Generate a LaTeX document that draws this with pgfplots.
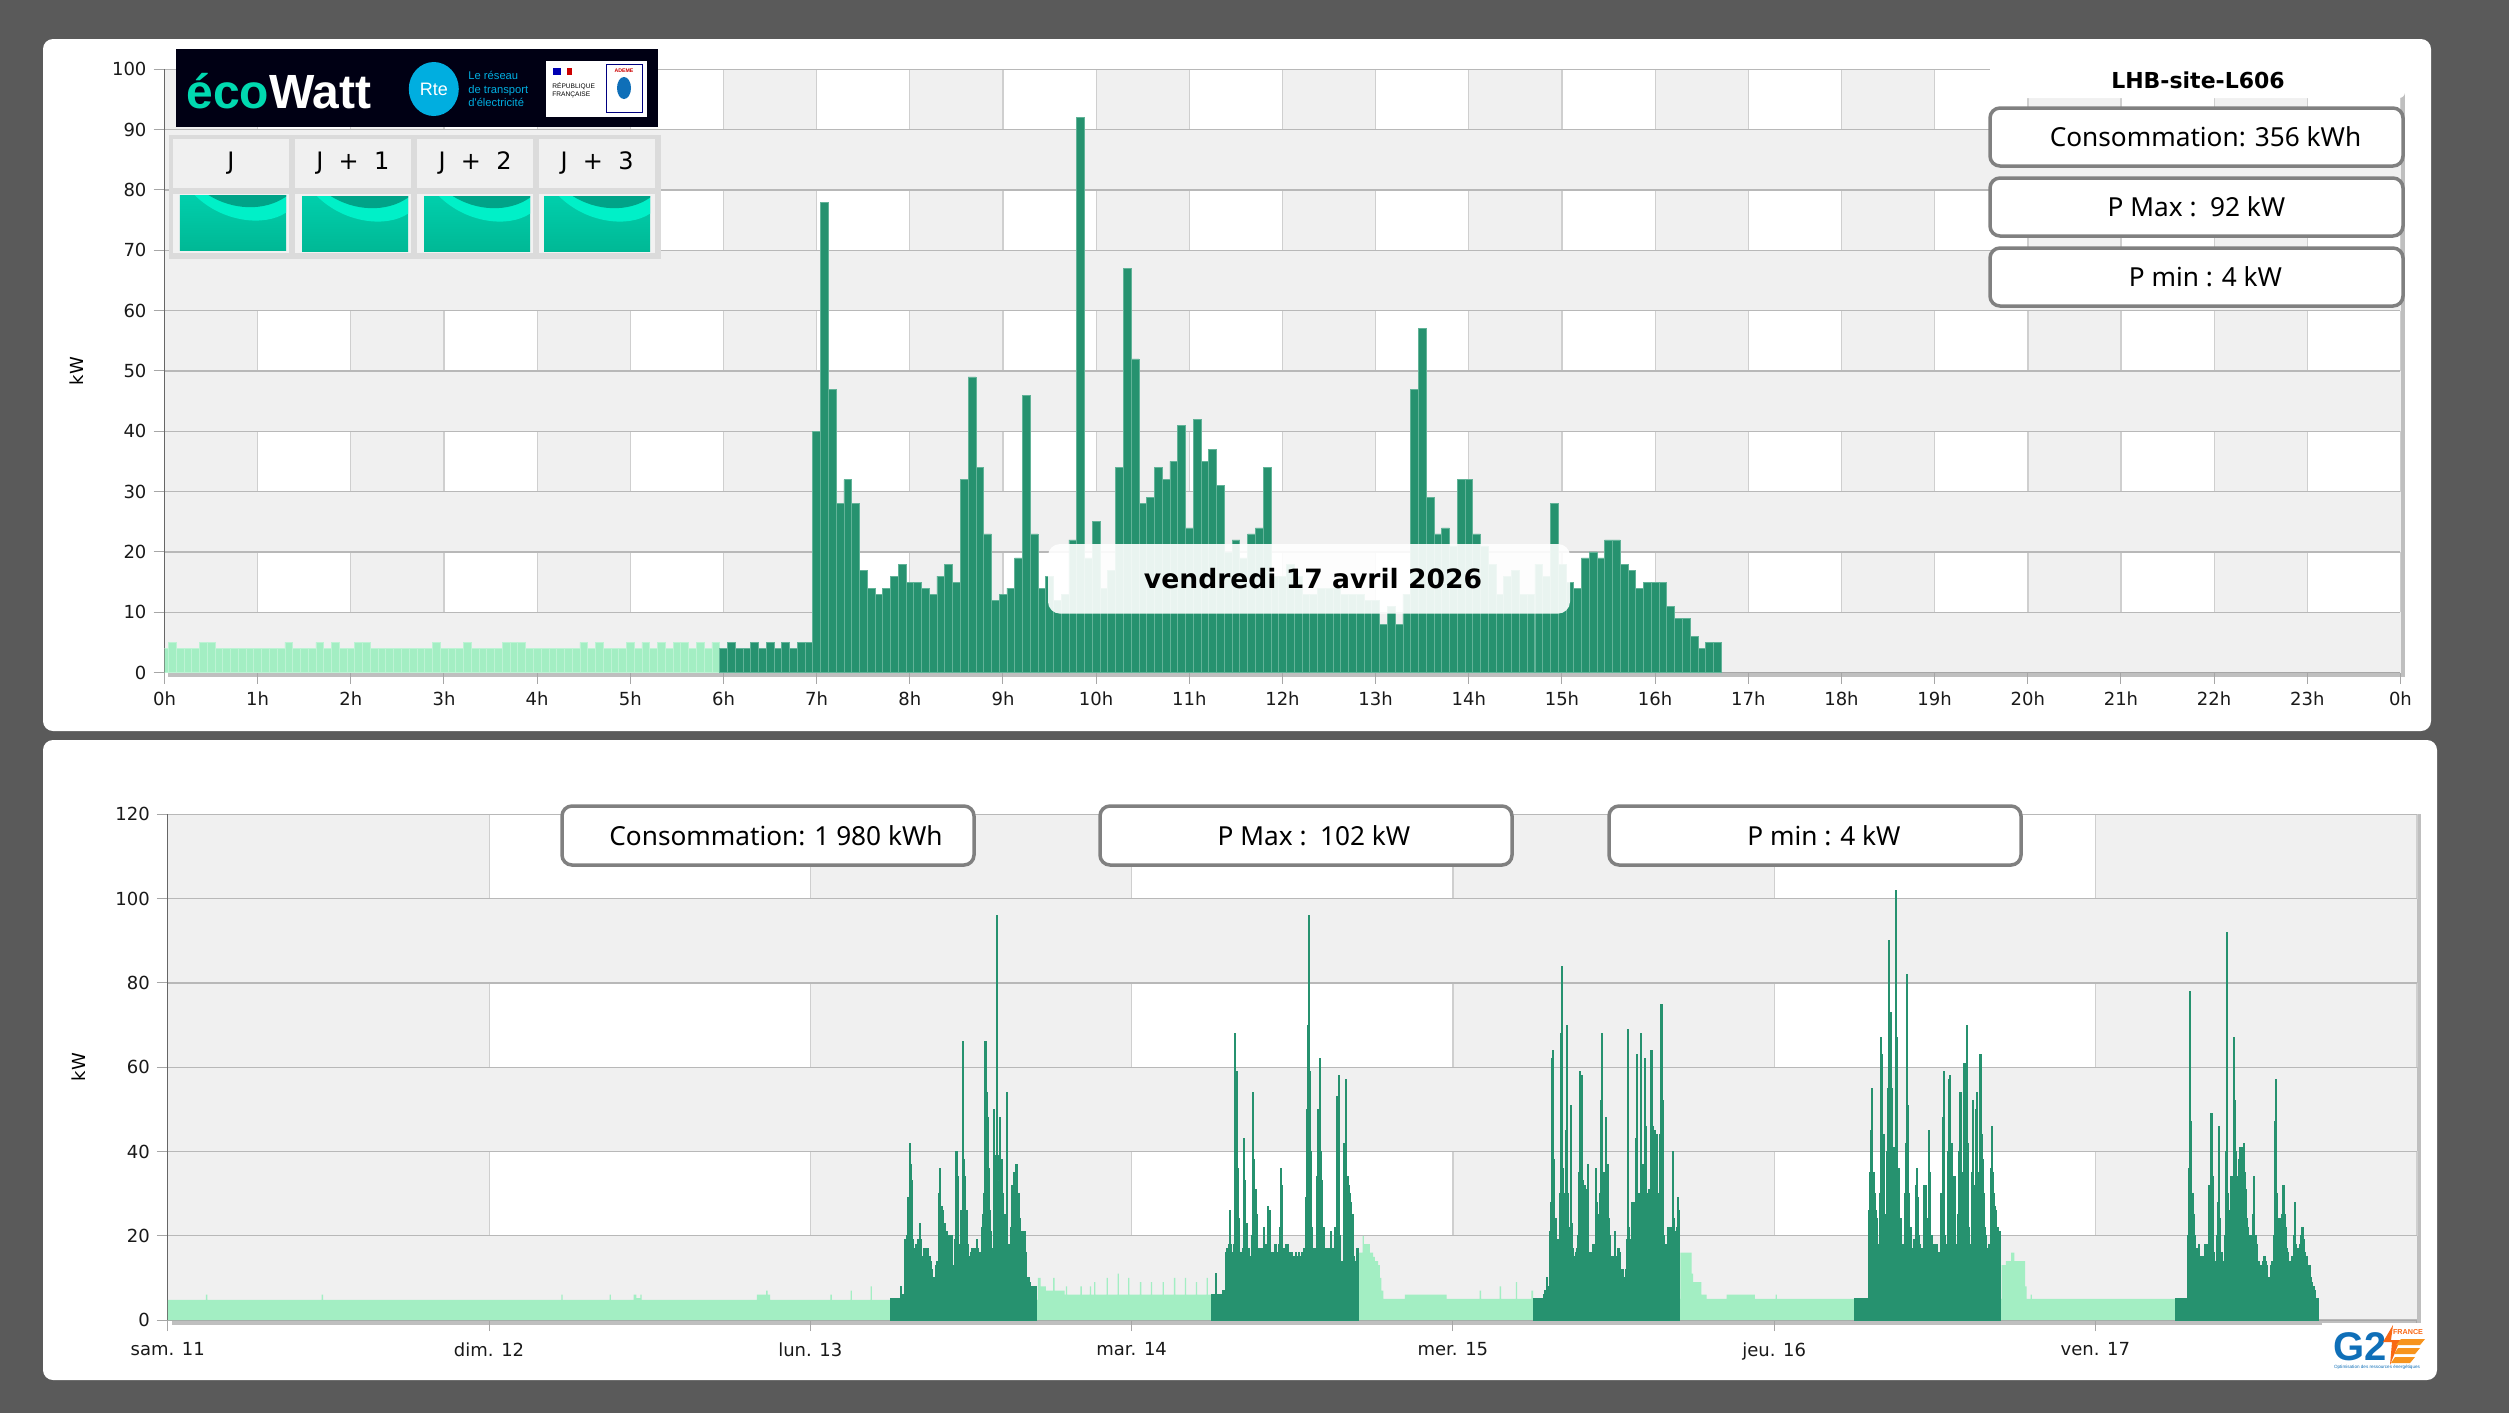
\documentclass[border=0pt]{standalone}
\usepackage{fontspec}
\setmainfont{DejaVu Sans}
\newfontfamily\boxfont{Noto Sans}
\newfontfamily\logofont{Liberation Sans}
\usepackage{pgfplots}
\pgfplotsset{compat=1.18}
\definecolor{dk}{HTML}{26926F}
\definecolor{dkedge}{HTML}{62B398}
\definecolor{lt}{HTML}{A3EEC3}
\definecolor{ltedge}{HTML}{BDF3D4}
\definecolor{bandgray}{HTML}{F0F0F0}
\definecolor{pagegray}{HTML}{5A5A5A}
\definecolor{boxline}{HTML}{808080}
\definecolor{rteblue}{HTML}{00AEE0}
\definecolor{ecoteal}{HTML}{00D9B0}
\definecolor{gblue}{HTML}{0F6FB8}
\definecolor{gorange}{HTML}{F7941D}
\pgfplotsset{
  chartaxis/.style={
    scale only axis, axis lines=left, axis line style={-},
    x axis line style={color=black!35}, y axis line style={color=black!60},
    xmajorgrids=false, ymajorgrids=true,
    y grid style={color=black!28, line width=.6pt},
    tick align=outside, tick pos=left,
    tick style={color=black!35, line width=.5pt},
    major tick length=5.5pt,
    tick label style={font=\fontsize{9}{11}\selectfont, color=black!90},
    /pgf/number format/assume math mode=true,
    ylabel style={at={(axis description cs:-0.0395,0.5)}, anchor=center, font=\fontsize{9}{11}\selectfont},
    ymin=0,
  },
}
\newcommand{\statbox}[6]{% x1 y1 x2 y2 text-offset text
  \draw[boxline, line width=1.75pt, fill=white, rounded corners=5pt] (#1,#2) rectangle (#3,#4);
  \node[font=\boxfont\fontsize{13.1}{15}\selectfont] at ({(#1+#3)/2+#5},{(#2+#4)/2}) {#6};
}
\newcommand{\tealcell}[4]{% x1 y1 x2 y2
  \begin{scope}
    \clip (#1,#2) rectangle (#3,#4);
    \shade[top color=tealtop, bottom color=tealbot] (#1,#2) rectangle (#3,#4);
    \fill[tealglow] (#1+0.14*106,#2) .. controls (#1+0.4*106,#2+0.5*55) and (#1+0.8*106,#2+0.58*55) .. (#3,#2+0.32*55) -- (#3,#2) -- cycle;
    \fill[tealdark] (#1+0.27*106,#2) .. controls (#1+0.5*106,#2+0.28*55) and (#1+0.8*106,#2+0.3*55) .. (#3,#2+0.03*55) -- (#3,#2) -- cycle;
  \end{scope}
}
\definecolor{tealtop}{HTML}{00CFAC}
\definecolor{tealbot}{HTML}{00B895}
\definecolor{tealglow}{HTML}{00F0C8}
\definecolor{tealdark}{HTML}{00A388}
\begin{document}
\begin{tikzpicture}
% page, panels and bands, in pixels of the reference
\begin{scope}[x=.5pt,y=-.5pt]
  \fill[white] (0,0) rectangle (2511,1415);
  \fill[pagegray] (0,0) rectangle (2509,1413);
  \fill[white, rounded corners=5pt] (43,39) rectangle (2431,731);
  \fill[white, rounded corners=5pt] (43,740) rectangle (2437,1380);
  % shadows
  \fill[black!25] (168,672) rectangle (2405,677);
  \fill[black!25] (2400,69) rectangle (2405,677);
  \fill[black!25] (172,1320) rectangle (2421,1325);
  \fill[black!25] (2416,814) rectangle (2421,1325);
  % top bands
  \fill[bandgray] (164.5,69.3) rectangle (2400.5,672.6);
  \foreach \h in {1,3,...,23} \foreach \v in {10,30,...,90}
    \fill[white] ({164.5+93.17*\h},{672.6-6.033*\v}) rectangle ({164.5+93.17*(\h+1)},{672.6-6.033*(\v+10)});
  \foreach \h in {0,...,24} \foreach \v in {10,30,...,90}
    \draw[black!19, line width=.6pt] ({164.5+93.17*\h},{672.6-6.033*\v}) -- ({164.5+93.17*\h},{672.6-6.033*(\v+10)});
  % bottom bands
  \fill[bandgray] (167.8,814.4) rectangle (2416.7,1320);
  \foreach \d in {1,3,5} \foreach \v in {20,60,100}
    \fill[white] ({167.8+321.3*\d},{1320-4.2133*\v}) rectangle ({167.8+321.3*(\d+1)},{1320-4.2133*(\v+20)});
  \foreach \d in {1,...,7} \foreach \v in {20,60,100}
    \draw[black!19, line width=.6pt] ({167.8+321.3*\d},{1320-4.2133*\v}) -- ({167.8+321.3*\d},{1320-4.2133*(\v+20)});
\end{scope}

% day view
\begin{axis}[chartaxis, at={(82.25pt,-336.3pt)}, anchor=south west,
  width=1118pt, height=301.65pt,
  xmin=0, xmax=24, ymax=100,
  xtick={0,...,24},
  xticklabels={0h,1h,2h,3h,4h,5h,6h,7h,8h,9h,10h,11h,12h,13h,14h,15h,16h,17h,18h,19h,20h,21h,22h,23h,0h},
  xticklabel style={yshift=-.6pt},
  ytick={0,10,...,100}, ylabel={kW}]
\addplot[ybar, bar shift=0pt, bar width=3.88pt, fill=lt, draw=ltedge, line width=.3pt]
  table[header=false, x expr=\coordindex/12, y index=0] {
4
5
4
4
4
5
5
4
4
4
4
4
4
4
4
4
5
4
4
4
5
4
5
4
4
5
5
4
4
4
4
4
4
4
4
5
4
4
4
5
4
4
4
4
5
5
5
4
4
4
4
4
4
4
5
4
5
4
4
4
5
4
5
4
5
4
5
5
4
5
4
5
};
\addplot[ybar, bar shift=0pt, bar width=3.88pt, fill=dk, draw=dkedge, line width=.3pt]
  table[header=false, x expr=6+\coordindex/12, y index=0] {
4
5
4
4
5
4
5
4
5
4
5
5
40
78
47
28
32
28
17
14
13
14
16
18
15
15
14
13
16
18
15
32
49
34
23
12
13
14
19
46
23
14
16
12
13
22
92
19
25
14
17
34
67
52
28
29
34
32
35
41
24
42
35
37
31
20
22
19
23
24
34
16
16
18
16
13
13
14
14
14
13
13
13
12
12
8
11
8
13
47
57
29
23
24
21
32
32
23
21
18
13
16
17
13
13
18
16
28
18
15
14
19
20
19
22
22
18
17
14
15
15
15
11
9
9
6
4
5
5
};
\end{axis}

% week view
\begin{axis}[chartaxis, at={(83.9pt,-660pt)}, anchor=south west,
  width=1124.45pt, height=252.8pt,
  xmin=0, xmax=168, ymax=120,
  xtick={0,24,...,168},
  xticklabels={sam. 11,dim. 12,lun. 13,mar. 14,mer. 15,jeu. 16,ven. 17,},
  xticklabel style={yshift=-2.2pt},
  ytick={0,20,...,120}, ylabel={kW}]
\addplot[const plot, fill=lt, draw=none] coordinates {
(0,4.8)(2.85,6)(2.95,4.8)(11.5,6)(11.6,4.8)(29.4,6)(29.5,4.8)(33,6)(33.1,4.8)(34.8,6)(35,5.2)(35.3,6)(35.4,4.8)
(44,6)(44.7,7)(44.8,6)(45,4.8)(49.5,6)(49.6,4.8)(51,7)(51.1,4.8)(52.5,8)(52.6,4.8)(54,4.8)
(65,10)(65.2,8)(65.6,7)(66.14,10)(66.24,7)(67,6)(67.09,8)(67.19,6)(68.18,8)(68.28,6)(68.88,8)(68.98,6)(69.2,9)(69.3,6)
(70.13,10)(70.23,6)(70.95,11)(71.05,6)(71.74,10)(71.84,6)(72.62,9)(72.72,6)(73.44,9)(73.54,6)(74.31,9)(74.41,6)
(75.16,10)(75.26,6)(75.98,10)(76.08,6)(76.8,9)(76.9,6)(77.6,10)(77.7,6)(78,6)
(89,16)(89.25,20)(89.35,18)(89.55,18)(89.8,16)(90.05,15)(90.17,14)(90.42,13)(90.55,10)(90.65,7)(90.8,5)(92.41,6)(95.53,5)
(98,7)(98.1,5)(99.5,8)(99.6,5)(100.7,9)(100.8,5)(101.87,7)(102,5)
(113,16)(113.83,11)(113.95,9)(114.57,6)(114.95,5)(116.44,6)(118.56,5)(120.1,6)(120.2,5)(126,5)
(137,13)(137.3,14)(137.7,16)(137.95,14)(138.6,14)(138.75,8)(138.85,5)(139.15,6)(139.25,5)(150,5)
} \closedcycle;
% lundi 6h-17h, 5 min
\addplot[const plot mark mid, fill=dk, draw=dk, line width=.5pt]
  table[header=false, x expr=54+\coordindex/12, y index=0] {
5
5
5
5
5
5
5
5
5
8
6
5
6
19
19
20
29
42
37
33
19
15
17
18
18
19
23
19
15
15
17
15
17
17
15
15
14
12
10
10
10
13
14
30
36
27
27
26
21
23
21
20
18
20
15
20
13
13
19
40
34
17
18
26
26
66
38
34
26
18
15
15
16
17
15
17
17
19
17
15
16
16
22
25
30
66
54
48
36
26
21
16
17
50
39
96
39
33
48
36
38
30
25
18
54
18
18
15
22
32
31
35
37
37
25
30
24
21
21
21
21
16
10
10
10
9
8
8
8
8
8
8
} \closedcycle;
% mardi
\addplot[const plot mark mid, fill=dk, draw=dk, line width=.5pt]
  table[header=false, x expr=78+\coordindex/12, y index=0] {
6
6
6
6
11
6
5
6
6
6
7
7
7
16
17
18
26
18
16
16
18
68
59
36
24
16
16
15
17
43
33
23
15
17
15
14
20
54
38
31
25
17
17
15
17
17
17
22
18
16
27
26
26
16
15
16
15
18
16
15
18
22
36
32
17
17
18
17
18
16
15
16
16
15
15
16
14
15
16
15
14
16
15
17
29
50
70
96
59
40
22
17
17
17
34
50
45
62
40
33
22
17
17
17
16
17
17
21
16
17
22
17
53
45
58
20
14
14
42
35
57
34
34
32
30
28
25
15
14
14
17
17
} \closedcycle;
% mercredi
\addplot[const plot mark mid, fill=dk, draw=dk, line width=.5pt]
  table[header=false, x expr=102+\coordindex/12, y index=0] {
5
5
5
5
5
5
5
5
5
5
6
7
10
8
8
21
28
62
64
38
24
17
19
16
30
68
84
36
30
45
70
30
18
22
51
23
17
15
16
17
20
35
59
30
58
33
32
31
20
37
16
16
16
15
18
15
36
28
25
20
30
52
68
35
25
48
20
37
24
20
15
15
15
21
15
14
17
17
16
12
12
10
10
12
19
69
22
18
19
28
22
28
43
63
30
22
30
68
37
30
62
46
30
28
31
22
64
46
24
45
30
44
24
30
44
75
52
20
18
17
18
22
22
20
22
40
24
21
20
22
29
26
} \closedcycle;
% jeudi
\addplot[const plot mark mid, fill=dk, draw=dk, line width=.5pt]
  table[header=false, x expr=126+\coordindex/12, y index=0] {
5
5
5
5
5
5
5
5
5
5
5
5
5
26
35
45
55
35
30
26
24
18
15
30
67
63
44
20
25
40
55
90
45
73
55
41
35
102
67
36
36
24
24
18
18
30
42
82
51
30
20
22
17
19
16
32
36
29
20
18
15
17
32
25
32
18
24
45
35
20
18
18
15
18
18
15
16
15
30
48
59
20
14
18
40
57
58
42
34
22
34
16
18
25
40
54
20
35
61
61
38
70
42
22
18
35
52
30
32
50
54
35
35
63
44
38
30
22
20
17
16
18
36
46
35
30
27
26
22
22
21
21
} \closedcycle;
% vendredi, jusqu'a 16h40
\addplot[const plot mark mid, fill=dk, draw=dk, line width=.5pt]
  table[header=false, x expr=150+\coordindex/12, y index=0] {
5
5
5
5
5
5
5
5
5
5
5
20
36
78
47
30
25
20
17
15
17
18
15
14
15
14
18
15
18
16
32
28
49
34
16
14
14
20
28
46
24
16
14
14
20
40
92
30
24
26
34
34
67
52
40
30
34
38
41
41
41
42
35
31
24
22
20
20
17
25
34
20
20
18
14
14
13
13
14
15
15
14
13
10
10
13
14
13
20
47
57
30
24
24
20
25
32
32
25
22
17
16
14
14
15
14
20
28
18
14
17
18
20
22
22
19
16
15
15
13
13
10
9
8
8
7
5
5
5
} \closedcycle;
\end{axis}

% overlays, in pixels of the reference
\begin{scope}[x=.5pt,y=-.5pt]
  % title and stat boxes
  \fill[white, rounded corners=3pt] (1990,55) rectangle (2405,98);
  \node[font=\bfseries\fontsize{11}{13}\selectfont] at (2198,80) {LHB-site-L606};
  \statbox{1990}{108}{2403}{166}{9}{Consommation: 356 kWh}
  \statbox{1990}{178}{2403}{236}{0}{P Max :\ \ 92 kW}
  \statbox{1990}{248}{2403}{306}{9}{P min : 4 kW}
  % date label
  \fill[white, opacity=.9, rounded corners=6pt] (1048,544) rectangle (1570,613.6);
  \node[font=\bfseries\fontsize{13.3}{15}\selectfont] at (1313,579) {vendredi 17 avril 2026};
  % week boxes
  \statbox{562}{806}{974}{865}{8}{Consommation: 1 980 kWh}
  \statbox{1100}{806}{1512}{865}{8}{P Max :\ \ 102 kW}
  \statbox{1609}{806}{2021}{865}{9}{P min : 4 kW}
  % ecowatt banner
  \fill[black!92!blue] (176.4,49) rectangle (658,126.7);
  \node[anchor=base west, inner sep=0pt, font=\logofont\bfseries\fontsize{24}{24}\selectfont] at (186,108) {\textcolor{ecoteal}{éco}\textcolor{white}{Watt}};
  \fill[rteblue] (433.8,89) ellipse (25 and 27);
  \node[white, font=\logofont\fontsize{9}{10}\selectfont] at (433.8,89) {Rte};
  \node[anchor=west, align=left, inner sep=0pt, rteblue, font=\logofont\fontsize{5.6}{6.8}\selectfont] at (468,89) {Le réseau\\de transport\\d'électricité};
  \fill[white] (546,61) rectangle (647,117);
  \draw[blue!50!black, line width=.3pt] (606,64) rectangle (642,112);
  \node[anchor=west, align=left, inner sep=0pt, font=\logofont\fontsize{3.3}{4}\selectfont] at (552,90) {RÉPUBLIQUE\\FRANÇAISE};
  \fill[blue!70!black] (553,68) rectangle (561,75);
  \fill[red!80!black] (567,68) rectangle (572,75);
  \node[red!80!black, font=\logofont\bfseries\fontsize{2.6}{3}\selectfont] at (624,71) {ADEME};
  \fill[gblue] (624,88) ellipse (7 and 11);
  % J, J+1, J+2, J+3
  \fill[black!14] (168.7,135) rectangle (661,259);
  \foreach \xa/\xb/\lab in {172.6/289.4/J,294.7/411/J\ \ +\ \ 1,416.9/533.2/J\ \ +\ \ 2,539/655.3/J\ \ +\ \ 3} {
    \fill[bandgray] (\xa,139) rectangle (\xb,188);
    \node[font=\fontsize{12}{14}\selectfont] at ({(\xa+\xb)/2},163) {\lab};
    \fill[black!5] (\xa,194) rectangle (\xb,253);
  }
  \tealcell{179.8}{195}{286}{250}
  \tealcell{302}{196}{408}{251.7}
  \tealcell{424}{196}{530}{251.7}
  \tealcell{544}{196}{650}{251.7}
  % G2E logo
  \fill[white] (2322,1323) rectangle (2437,1370);
  \node[gblue, font=\logofont\bfseries\fontsize{20}{20}\selectfont, inner sep=0pt] at (2360,1347) {G2};
  \fill[gorange!70!red] (2393,1325) -- (2383,1342) -- (2392,1342) -- (2390,1365) -- (2400,1340) -- (2391,1340) -- cycle;
  \fill[gorange] (2401,1339) -- (2425,1339) -- (2420,1345) -- (2396,1345) -- cycle;
  \fill[gorange] (2398,1348) -- (2420,1348) -- (2415,1354) -- (2394,1354) -- cycle;
  \fill[gorange] (2395,1357) -- (2415,1357) -- (2410,1363) -- (2391,1363) -- cycle;
  \node[gorange!70!red, font=\logofont\bfseries\fontsize{3.6}{4}\selectfont, inner sep=0pt] at (2408,1332) {FRANCE};
  \node[gblue, font=\logofont\fontsize{2.3}{3}\selectfont, inner sep=0pt] at (2377,1367) {Optimisation des ressources énergétiques};
\end{scope}
\end{tikzpicture}
\end{document}
